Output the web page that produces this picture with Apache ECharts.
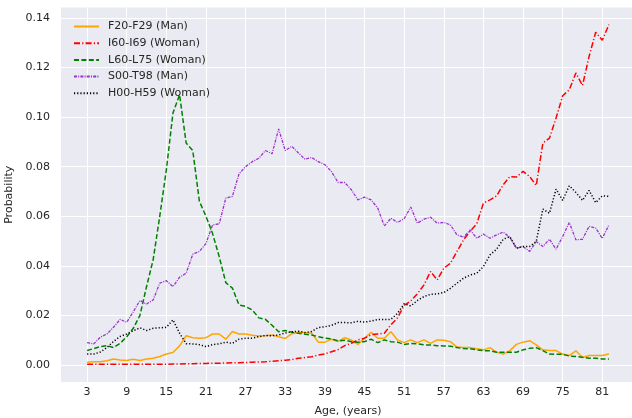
<!DOCTYPE html>
<html>
<head>
<meta charset="utf-8">
<script src="https://cdn.jsdelivr.net/npm/echarts@6/dist/echarts.min.js"></script>
<style>html,body{margin:0;padding:0;background:#fff}#c{width:632px;height:418px}</style>
</head>
<body>
<div id="c"></div>
<script>
const ages = [3,4,5,6,7,8,9,10,11,12,13,14,15,16,17,18,19,20,21,22,23,24,25,26,27,28,29,30,31,32,33,34,35,36,37,38,39,40,41,42,43,44,45,46,47,48,49,50,51,52,53,54,55,56,57,58,59,60,61,62,63,64,65,66,67,68,69,70,71,72,73,74,75,76,77,78,79,80,81,82];

const f20 = [0.0011,0.0013,0.0013,0.0017,0.0024,0.0020,0.0018,0.0023,0.0018,0.0024,0.0027,0.0034,0.0044,0.0050,0.0077,0.0118,0.0110,0.0108,0.0110,0.0125,0.0125,0.0104,0.0135,0.0125,0.0125,0.0120,0.0117,0.0118,0.0121,0.0114,0.0107,0.0126,0.0132,0.0130,0.0128,0.0092,0.0092,0.0104,0.0095,0.0110,0.0101,0.0083,0.0108,0.0132,0.0108,0.0108,0.0134,0.0101,0.0090,0.0101,0.0090,0.0101,0.0087,0.0101,0.0100,0.0094,0.0072,0.0070,0.0070,0.0065,0.0061,0.0070,0.0051,0.0044,0.0058,0.0083,0.0092,0.0098,0.0081,0.0061,0.0058,0.0058,0.0044,0.0038,0.0057,0.0030,0.0038,0.0038,0.0038,0.0044];

const i60 = [0.0003,0.0003,0.0003,0.0003,0.0003,0.0003,0.0003,0.0003,0.0003,0.0003,0.0003,0.0003,0.0003,0.0004,0.0004,0.0005,0.0005,0.0006,0.0006,0.0007,0.0007,0.0008,0.0009,0.0009,0.0010,0.0011,0.0012,0.0013,0.0015,0.0017,0.0019,0.0022,0.0027,0.0030,0.0033,0.0040,0.0045,0.0053,0.0062,0.0078,0.0087,0.0101,0.0108,0.0122,0.0125,0.0128,0.0162,0.0190,0.0240,0.0258,0.0287,0.0323,0.0377,0.0343,0.0390,0.0410,0.0458,0.0505,0.0540,0.0570,0.0653,0.0666,0.0682,0.0727,0.0760,0.0758,0.0781,0.0760,0.0724,0.0895,0.0915,0.0996,0.1086,0.1110,0.1178,0.1127,0.1245,0.1342,0.1310,0.1373];

const l60 = [0.0058,0.0066,0.0074,0.0078,0.0070,0.0087,0.0114,0.0148,0.0200,0.0316,0.0424,0.0600,0.0787,0.1016,0.1090,0.0895,0.0865,0.0660,0.0600,0.0530,0.0437,0.0332,0.0310,0.0242,0.0236,0.0222,0.0190,0.0184,0.0160,0.0134,0.0139,0.0132,0.0128,0.0124,0.0121,0.0114,0.0108,0.0105,0.0097,0.0100,0.0094,0.0092,0.0094,0.0104,0.0090,0.0101,0.0094,0.0092,0.0083,0.0087,0.0085,0.0081,0.0081,0.0078,0.0077,0.0076,0.0070,0.0066,0.0065,0.0061,0.0058,0.0057,0.0051,0.0051,0.0051,0.0051,0.0061,0.0067,0.0070,0.0058,0.0044,0.0043,0.0043,0.0036,0.0034,0.0031,0.0027,0.0027,0.0024,0.0024];

const s00 = [0.0090,0.0085,0.0112,0.0125,0.0152,0.0184,0.0172,0.0215,0.0260,0.0246,0.0262,0.0330,0.0340,0.0316,0.0354,0.0370,0.0447,0.0458,0.0490,0.0565,0.0569,0.0673,0.0680,0.0771,0.0800,0.0820,0.0834,0.0865,0.0852,0.0952,0.0865,0.0882,0.0855,0.0830,0.0837,0.0820,0.0808,0.0780,0.0736,0.0736,0.0707,0.0666,0.0677,0.0666,0.0633,0.0561,0.0592,0.0575,0.0590,0.0637,0.0572,0.0588,0.0596,0.0572,0.0575,0.0565,0.0525,0.0515,0.0545,0.0511,0.0528,0.0511,0.0525,0.0536,0.0515,0.0471,0.0478,0.0458,0.0498,0.0478,0.0507,0.0467,0.0518,0.0575,0.0505,0.0507,0.0559,0.0552,0.0511,0.0564];

const h00 = [0.0044,0.0044,0.0052,0.0070,0.0095,0.0115,0.0125,0.0138,0.0150,0.0139,0.0148,0.0150,0.0152,0.0182,0.0128,0.0086,0.0085,0.0082,0.0074,0.0082,0.0085,0.0092,0.0087,0.0104,0.0108,0.0108,0.0114,0.0119,0.0118,0.0121,0.0129,0.0134,0.0136,0.0131,0.0135,0.0151,0.0154,0.0160,0.0171,0.0171,0.0170,0.0176,0.0173,0.0177,0.0183,0.0183,0.0184,0.0208,0.0247,0.0238,0.0260,0.0276,0.0285,0.0287,0.0292,0.0309,0.0330,0.0350,0.0363,0.0370,0.0397,0.0444,0.0467,0.0507,0.0518,0.0471,0.0478,0.0478,0.0498,0.0629,0.0612,0.0709,0.0664,0.0723,0.0696,0.0664,0.0704,0.0655,0.0682,0.0680];

const seriesNames = ['F20-F29 (Man)','I60-I69 (Woman)','L60-L75 (Woman)','S00-T98 (Man)','H00-H59 (Woman)'];
const xTicks = [3,9,15,21,27,33,39,45,51,57,63,69,75,81];
const yTicks = [0,0.02,0.04,0.06,0.08,0.10,0.12,0.14];

const values = [f20, i60, l60, s00, h00];
const colors = ['#FFA500','#FF0000','#008000','#9932CC','#000000'];
const dashes = ['solid',[6,2.2,1.2,2.2],[5,2.4],[3,1.2,1,1.2],[1.2,2]];
const widths = [1.5,1.5,1.5,1.3,1.5];

const chart = echarts.init(document.getElementById('c'), null, {renderer:'canvas'});
const font = 'DejaVu Sans';
chart.setOption({
  animation:false,
  backgroundColor:'#ffffff',
  textStyle:{fontFamily:font},
  grid:{left:61, top:7.5, width:574, height:374.5, show:true, backgroundColor:'#EAEAF2', borderWidth:0,
    containLabel:false, outerBoundsMode:'none'},
  legend:{
    orient:'vertical', left:68, top:16, itemWidth:25, itemHeight:11, itemGap:5.7,
    itemStyle:{opacity:0},
    textStyle:{fontFamily:font, fontSize:11, color:'#262626', padding:[0,0,0,4]},
    data:seriesNames
  },
  xAxis:{
    type:'value', min:-0.95, max:85.95,
    name:'Age, (years)', nameLocation:'middle', nameGap:24,
    nameTextStyle:{fontFamily:font, fontSize:11, color:'#262626'},
    axisLine:{show:false},
    axisTick:{show:false, customValues:xTicks},
    axisLabel:{customValues:xTicks, fontFamily:font, fontSize:11, color:'#262626', margin:5},
    splitLine:{show:true, lineStyle:{color:'#ffffff', width:1}}
  },
  yAxis:{
    type:'value', min:-0.00687, max:0.1442,
    name:'Probability', nameLocation:'middle', nameGap:44, nameRotate:90,
    nameTextStyle:{fontFamily:font, fontSize:11, color:'#262626'},
    axisLine:{show:false},
    axisTick:{show:false, customValues:yTicks},
    axisLabel:{customValues:yTicks, fontFamily:font, fontSize:11, color:'#262626', margin:11,
      formatter:v=>v.toFixed(2)},
    splitLine:{show:true, lineStyle:{color:'#ffffff', width:1}}
  },
  series: values.map((vals,k)=>({
    name:seriesNames[k], type:'line', showSymbol:false, symbol:'none',
    data: ages.map((a,i)=>[a, vals[i]]),
    lineStyle:{color:colors[k], width:widths[k], type:dashes[k]},
    itemStyle:{color:colors[k]},
    z: 2
  }))
});
</script>
</body>
</html>
